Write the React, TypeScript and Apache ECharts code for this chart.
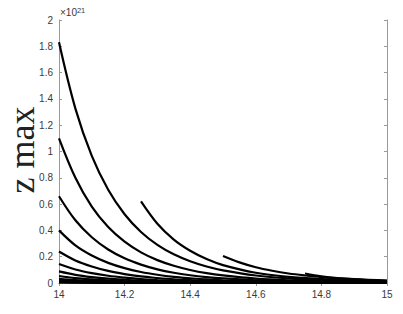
import React, { useEffect, useRef } from "react";
import * as echarts from "echarts";

// x positions (×1) for the curves that start at 14
const X_BASE = [14, 14.05, 14.1, 14.15, 14.2, 14.25, 14.3, 14.35, 14.4, 14.45, 14.5, 14.6, 14.7, 14.8, 14.9, 15];

// z max values (×10^21)
const CURVE_0 = [1.83, 1.326, 0.967, 0.709, 0.523, 0.388, 0.29, 0.218, 0.165, 0.125, 0.096, 0.057, 0.035, 0.023, 0.016, 0.012];
const CURVE_1 = [1.10, 0.80, 0.58, 0.425, 0.314, 0.233, 0.174, 0.131, 0.099, 0.075, 0.058, 0.034, 0.021, 0.014, 0.0096, 0.0072];
const CURVE_2 = [0.66, 0.477, 0.348, 0.255, 0.188, 0.14, 0.104, 0.078, 0.059, 0.045, 0.035, 0.021, 0.0126, 0.0083, 0.0058, 0.0043];
const CURVE_3 = [0.40, 0.286, 0.209, 0.153, 0.113, 0.084, 0.063, 0.047, 0.036, 0.027, 0.021, 0.0123, 0.0076, 0.005, 0.0035, 0.0026];
const CURVE_4 = [0.24, 0.172, 0.126, 0.092, 0.068, 0.05, 0.038, 0.028, 0.0215, 0.016, 0.0125, 0.0074, 0.0046, 0.003, 0.0021, 0.0016];
const CURVE_5 = [0.145, 0.103, 0.075, 0.055, 0.041, 0.03, 0.0226, 0.017, 0.0129, 0.0098, 0.0075, 0.0044, 0.0027, 0.0018, 0.0012, 0.0009];
const CURVE_6 = [0.088, 0.062, 0.045, 0.033, 0.0246, 0.018, 0.0136, 0.0102, 0.0078, 0.0059, 0.0045, 0.0027, 0.0016, 0.0011, 0.0008, 0.0006];
const CURVE_7 = [0.053, 0.037, 0.027, 0.02, 0.0147, 0.011, 0.0081, 0.0061, 0.0046, 0.0035, 0.0027, 0.0016, 0.001, 0.0006, 0.0004, 0.0003];
const CURVE_8 = [0.032, 0.022, 0.016, 0.012, 0.0088, 0.0065, 0.0049, 0.0037, 0.0028, 0.0021, 0.0016, 0.001, 0.0006, 0.0004, 0.0003, 0.0002];
const CURVE_9 = [0.019, 0.013, 0.0097, 0.0071, 0.0053, 0.0039, 0.0029, 0.0022, 0.0017, 0.0013, 0.001, 0.0006, 0.0004, 0.0002, 0.0002, 0.0001];
const CURVE_10 = [0.0115, 0.008, 0.0058, 0.0043, 0.0032, 0.0023, 0.0017, 0.0013, 0.001, 0.0008, 0.0006, 0.0004, 0.0002, 0.0001, 0.0001, 0.0001];
const CURVE_11 = [0.007, 0.005, 0.0035, 0.0026, 0.0019, 0.0014, 0.001, 0.0008, 0.0006, 0.0005, 0.0004, 0.0002, 0.0001, 0.0001, 0.0001, 0];
const CURVE_12 = [0.004, 0.003, 0.002, 0.0015, 0.0011, 0.0008, 0.0006, 0.0005, 0.0004, 0.0003, 0.0002, 0.0001, 0.0001, 0, 0, 0];

// curves that start later
const X_LATE_1 = [14.25, 14.3, 14.35, 14.4, 14.45, 14.5, 14.6, 14.7, 14.8, 14.9, 15];
const LATE_1 = [0.62, 0.45, 0.33, 0.245, 0.182, 0.136, 0.078, 0.047, 0.03, 0.02, 0.014];
const X_LATE_2 = [14.5, 14.55, 14.6, 14.65, 14.7, 14.75, 14.8, 14.9, 15];
const LATE_2 = [0.205, 0.157, 0.12, 0.093, 0.072, 0.057, 0.045, 0.029, 0.019];
const X_LATE_3 = [14.75, 14.8, 14.85, 14.9, 14.95, 15];
const LATE_3 = [0.072, 0.051, 0.037, 0.028, 0.021, 0.016];

const X_TICKS = { min: 14, max: 15, interval: 0.2 };
const Y_TICKS = { min: 0, max: 2, interval: 0.2 };

const BASE_CURVES = [CURVE_0, CURVE_1, CURVE_2, CURVE_3, CURVE_4, CURVE_5, CURVE_6, CURVE_7, CURVE_8, CURVE_9, CURVE_10, CURVE_11, CURVE_12];
const LATE_CURVES: [number[], number[]][] = [
  [X_LATE_1, LATE_1],
  [X_LATE_2, LATE_2],
  [X_LATE_3, LATE_3],
];

const zip = (xs: number[], ys: number[]) => xs.map((x, i) => [x, ys[i]]);

export default function App() {
  const ref = useRef<HTMLDivElement>(null);
  useEffect(() => {
    if (!ref.current) return;
    const chart = echarts.init(ref.current, null, { renderer: "svg" });
    const AXIS_COLOR = "#9a9a9a";
    const LABEL_COLOR = "#3a3a3a";
    const lineStyle = { color: "#000", width: 2.2 };
    const series: any[] = [];
    BASE_CURVES.forEach((ys, i) => {
      series.push({
        type: "line",
        name: "c" + i,
        data: zip(X_BASE, ys),
        showSymbol: false,
        smooth: 0.35,
        lineStyle,
        xAxisIndex: 0,
        yAxisIndex: 0,
        z: 3,
      });
    });
    LATE_CURVES.forEach(([xs, ys], i) => {
      series.push({
        type: "line",
        name: "late" + i,
        data: zip(xs, ys),
        showSymbol: false,
        smooth: 0.35,
        lineStyle,
        xAxisIndex: 0,
        yAxisIndex: 0,
        z: 3,
      });
    });
    const axisCommon = {
      type: "value",
      splitLine: { show: false },
      axisLine: { show: true, lineStyle: { color: AXIS_COLOR, width: 1 } },
      axisTick: { show: true, inside: true, length: 3, lineStyle: { color: AXIS_COLOR } },
    };
    chart.setOption({
      animation: false,
      backgroundColor: "#fff",
      grid: { left: 59, right: 16, top: 20, bottom: 31, containLabel: false },
      xAxis: [
        {
          ...axisCommon,
          ...X_TICKS,
          position: "bottom",
          axisLabel: { color: LABEL_COLOR, fontSize: 10, fontFamily: "Liberation Sans", margin: 6 },
        },
        {
          ...axisCommon,
          ...X_TICKS,
          position: "top",
          axisLabel: { show: false },
        },
      ],
      yAxis: [
        {
          ...axisCommon,
          ...Y_TICKS,
          position: "left",
          axisLabel: { color: LABEL_COLOR, fontSize: 10, fontFamily: "Liberation Sans", margin: 6 },
        },
        {
          ...axisCommon,
          ...Y_TICKS,
          position: "right",
          axisLabel: { show: false },
        },
      ],
      graphic: [
        {
          type: "text",
          left: 60,
          top: 6,
          style: {
            text: "×10{sup|21}",
            font: '10px "Liberation Sans"',
            fill: LABEL_COLOR,
            rich: { sup: { fontSize: 7.5, verticalAlign: "top", padding: [0, 0, 5, 0], fill: LABEL_COLOR } },
          },
        },
        {
          type: "text",
          x: 22,
          y: 150,
          rotation: Math.PI / 2,
          style: {
            text: "z max",
            font: '36px "Liberation Serif"',
            fill: "#222",
            textAlign: "center",
            textVerticalAlign: "middle",
          },
        },
      ],
      series,
    });
    return () => chart.dispose();
  }, []);
  return (
    <div
      ref={ref}
      style={{ position: "fixed", left: 0, top: 0, width: 403, height: 314 }}
    />
  );
}
